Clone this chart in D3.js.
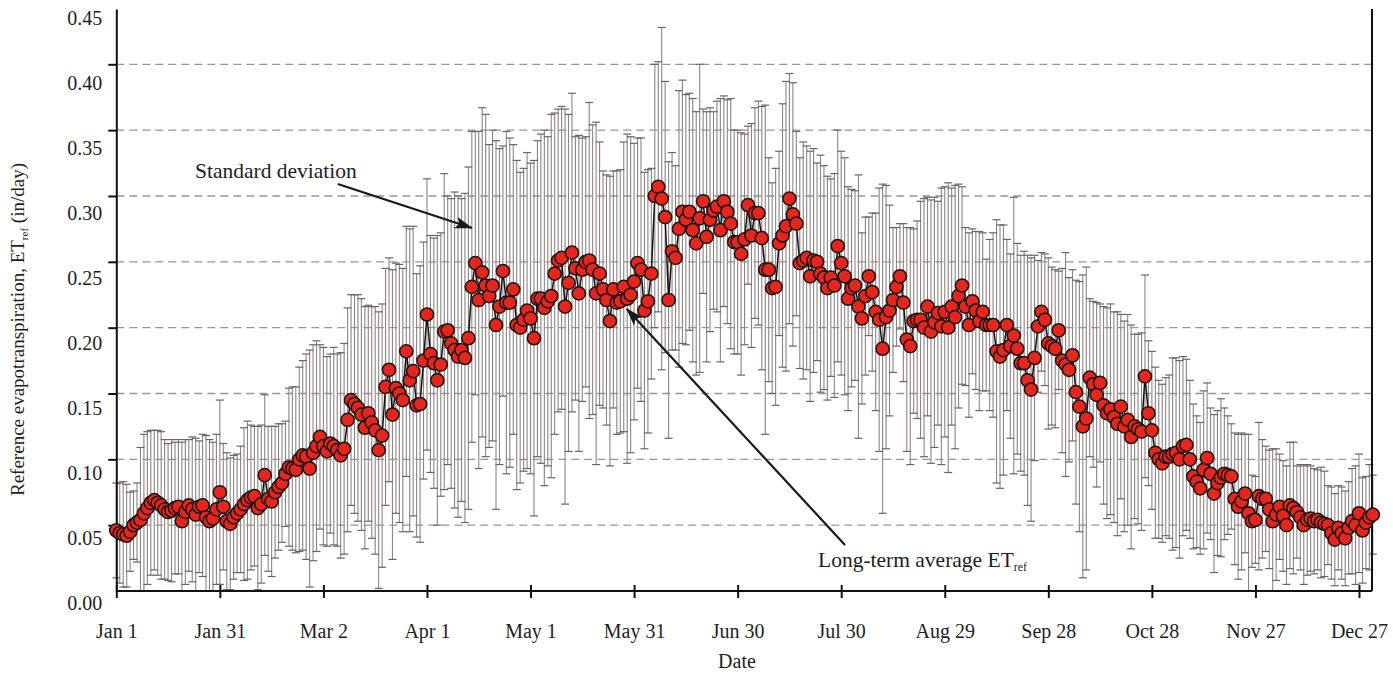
<!DOCTYPE html>
<html>
<head>
<meta charset="utf-8">
<script src="https://d3js.org/d3.v7.min.js"></script>
<style>
  body { margin: 0; background: #fff; }
  svg text { font-family: "Liberation Serif", "DejaVu Serif", serif; fill: #1e1e1e; }
</style>
</head>
<body>
<div id="chart"></div>
<script>
// day-of-year ticks and their labels
const tickDays = [1, 31, 61, 91, 121, 151, 181, 211, 241, 271, 301, 331, 361];
const tickLabels = ["Jan 1", "Jan 31", "Mar 2", "Apr 1", "May 1", "May 31", "Jun 30",
  "Jul 30", "Aug 29", "Sep 28", "Oct 28", "Nov 27", "Dec 27"];
const yLabels = [0, 0.05, 0.10, 0.15, 0.20, 0.25, 0.30, 0.35, 0.40, 0.45];
const gridValues = [0.05, 0.10, 0.15, 0.20, 0.25, 0.30, 0.35, 0.40];

// long-term average ET_ref (in/day), one value per day, one line per month
const meanEt = [
  0.046,0.044,0.043,0.042,0.045,0.050,0.052,0.054,0.059,0.063,0.067,0.069,0.067,0.065,0.062,0.060,0.061,0.063,0.064,0.053,0.060,0.065,0.062,0.058,0.064,0.065,0.056,0.053,0.055,0.062,0.075,
  0.064,0.053,0.051,0.056,0.059,0.062,0.066,0.069,0.071,0.072,0.063,0.066,0.088,0.070,0.068,0.075,0.079,0.082,0.089,0.094,0.093,0.092,0.100,0.103,0.102,0.093,0.105,0.110,
  0.117,0.110,0.106,0.112,0.110,0.107,0.103,0.108,0.130,0.145,0.142,0.139,0.134,0.124,0.135,0.128,0.122,0.107,0.118,0.155,0.168,0.134,0.154,0.150,0.145,0.182,0.160,0.167,0.141,0.142,0.175,
  0.210,0.180,0.173,0.160,0.172,0.197,0.198,0.188,0.183,0.178,0.183,0.177,0.192,0.231,0.249,0.221,0.242,0.232,0.224,0.232,0.202,0.216,0.243,0.219,0.219,0.229,0.202,0.200,0.206,0.213,
  0.207,0.192,0.222,0.222,0.215,0.220,0.224,0.241,0.251,0.253,0.216,0.234,0.257,0.245,0.226,0.244,0.250,0.251,0.244,0.226,0.241,0.229,0.221,0.205,0.229,0.219,0.220,0.231,0.222,0.225,0.235,
  0.249,0.244,0.213,0.220,0.241,0.300,0.307,0.298,0.284,0.221,0.258,0.253,0.275,0.288,0.282,0.288,0.274,0.264,0.283,0.296,0.269,0.282,0.289,0.292,0.274,0.296,0.288,0.279,0.265,0.265,
  0.256,0.267,0.293,0.270,0.287,0.287,0.268,0.244,0.244,0.230,0.231,0.264,0.270,0.277,0.298,0.286,0.279,0.249,0.251,0.253,0.239,0.251,0.250,0.241,0.238,0.230,0.238,0.232,0.262,0.249,0.239,
  0.222,0.230,0.232,0.216,0.207,0.224,0.239,0.227,0.212,0.206,0.184,0.208,0.213,0.221,0.231,0.239,0.219,0.191,0.186,0.205,0.206,0.206,0.200,0.216,0.197,0.204,0.211,0.201,0.212,0.200,0.216,
  0.208,0.224,0.232,0.216,0.202,0.220,0.213,0.205,0.212,0.202,0.202,0.202,0.182,0.178,0.183,0.202,0.186,0.194,0.184,0.173,0.173,0.160,0.153,0.177,0.201,0.212,0.206,0.188,0.186,0.184,
  0.198,0.175,0.172,0.168,0.179,0.151,0.140,0.125,0.131,0.162,0.157,0.149,0.158,0.141,0.135,0.138,0.132,0.127,0.140,0.125,0.130,0.117,0.125,0.123,0.121,0.163,0.135,0.122,0.105,0.100,0.097,
  0.102,0.102,0.104,0.105,0.100,0.110,0.111,0.100,0.087,0.083,0.078,0.092,0.101,0.089,0.074,0.082,0.086,0.089,0.088,0.087,0.070,0.064,0.068,0.074,0.059,0.053,0.054,0.072,0.070,0.070,
  0.062,0.053,0.058,0.064,0.057,0.050,0.065,0.063,0.060,0.056,0.050,0.054,0.055,0.053,0.054,0.052,0.051,0.050,0.044,0.039,0.048,0.044,0.040,0.048,0.053,0.050,0.059,0.046,0.052,0.056,0.058
];

// standard deviation for each day
const sdEt = [
  0.036,0.038,0.040,0.039,0.030,0.026,0.030,0.055,0.060,0.058,0.055,0.053,0.055,0.056,0.053,0.052,0.054,0.050,0.051,0.060,0.055,0.050,0.055,0.058,0.050,0.054,0.062,0.062,0.058,0.057,0.070,
  0.048,0.052,0.050,0.047,0.045,0.048,0.058,0.060,0.055,0.053,0.062,0.060,0.061,0.055,0.057,0.050,0.048,0.045,0.040,0.060,0.062,0.063,0.070,0.072,0.078,0.090,0.082,0.080,
  0.070,0.075,0.072,0.068,0.075,0.073,0.078,0.080,0.085,0.080,0.083,0.086,0.088,0.092,0.082,0.088,0.094,0.105,0.100,0.090,0.085,0.110,0.095,0.098,0.100,0.095,0.115,0.110,0.100,0.105,0.090,
  0.103,0.090,0.095,0.110,0.100,0.120,0.102,0.110,0.120,0.122,0.115,0.125,0.130,0.118,0.100,0.128,0.125,0.130,0.115,0.118,0.140,0.120,0.095,0.130,0.125,0.110,0.125,0.118,0.115,0.120,
  0.118,0.135,0.120,0.125,0.135,0.125,0.138,0.122,0.115,0.115,0.150,0.128,0.121,0.100,0.120,0.100,0.095,0.120,0.110,0.130,0.100,0.090,0.095,0.110,0.090,0.100,0.100,0.110,0.125,0.120,0.105,
  0.095,0.100,0.105,0.100,0.080,0.100,0.095,0.130,0.103,0.105,0.075,0.070,0.105,0.100,0.095,0.090,0.100,0.100,0.117,0.070,0.095,0.085,0.075,0.080,0.100,0.080,0.085,0.095,0.085,0.085,
  0.092,0.080,0.060,0.085,0.080,0.085,0.100,0.125,0.085,0.080,0.090,0.070,0.100,0.110,0.095,0.100,0.070,0.080,0.090,0.085,0.095,0.085,0.075,0.090,0.085,0.085,0.075,0.085,0.088,0.085,0.090,
  0.085,0.075,0.072,0.100,0.065,0.060,0.045,0.060,0.075,0.100,0.125,0.100,0.080,0.055,0.045,0.040,0.060,0.085,0.090,0.070,0.075,0.090,0.098,0.083,0.100,0.095,0.085,0.105,0.095,0.110,0.090,
  0.100,0.085,0.075,0.060,0.070,0.055,0.060,0.068,0.060,0.050,0.065,0.070,0.100,0.100,0.095,0.065,0.070,0.105,0.080,0.082,0.085,0.095,0.100,0.078,0.050,0.045,0.050,0.065,0.060,0.060,
  0.045,0.070,0.085,0.070,0.065,0.085,0.095,0.115,0.115,0.060,0.063,0.070,0.060,0.075,0.080,0.080,0.080,0.085,0.070,0.080,0.080,0.085,0.070,0.072,0.075,0.077,0.055,0.060,0.065,0.060,0.060,
  0.060,0.062,0.073,0.072,0.075,0.068,0.065,0.060,0.055,0.050,0.050,0.060,0.057,0.050,0.060,0.055,0.060,0.050,0.045,0.040,0.050,0.055,0.052,0.045,0.060,0.035,0.033,0.056,0.045,0.040,
  0.045,0.055,0.050,0.040,0.042,0.045,0.048,0.050,0.035,0.040,0.045,0.042,0.040,0.040,0.038,0.042,0.040,0.030,0.035,0.035,0.032,0.035,0.036,0.035,0.040,0.045,0.045,0.040,0.035,0.040,0.030
];

function drawChart() {
  const width = 1393;
  const height = 674;
  const left = 116.3, right = 1372.8, top = 9, bottom = 591;
  const borderX = 1372;

  const days = d3.range(1, meanEt.length + 1);
  const data = days.map((d, i) => ({day: d, mean: meanEt[i], sd: sdEt[i]}));

  const svg = d3.select("#chart")
    .append("svg")
    .attr("width", width)
    .attr("height", height);

  const x = d3.scaleLinear().domain([1, 365]).range([left, right]);
  const y = d3.scaleLinear().domain([0, 0.442]).range([bottom, top]);
  // in the original the tick labels sit a bit lower than the tick marks
  const yLab = d3.scaleLinear().domain([0, 0.45]).range([603, 18]);

  svg.append("defs").append("marker")
    .attr("id", "arrow")
    .attr("markerUnits", "userSpaceOnUse")
    .attr("markerWidth", 18).attr("markerHeight", 12)
    .attr("refX", 17).attr("refY", 6)
    .attr("orient", "auto")
    .append("path")
    .attr("d", "M0,0 L18,6 L0,12 L4,6 Z")
    .attr("fill", "#1a1a1a");

  // dashed grid
  svg.append("g")
    .selectAll("line")
    .data(gridValues).enter()
    .append("line")
    .attr("x1", left).attr("x2", borderX)
    .attr("y1", d => y(d)).attr("y2", d => y(d))
    .attr("stroke", "#9c9595")
    .attr("stroke-width", 1.3)
    .attr("stroke-dasharray", "8,5");

  // error bars
  const bars = svg.append("g");
  bars.selectAll(".bar")
    .data(data).enter()
    .append("line")
    .attr("x1", d => x(d.day)).attr("x2", d => x(d.day))
    .attr("y1", d => y(Math.max(0, d.mean - d.sd)))
    .attr("y2", d => y(d.mean + d.sd))
    .attr("stroke", "#8e8484")
    .attr("stroke-width", 1.1);
  ["low", "high"].forEach(function (end) {
    bars.selectAll(".cap-" + end)
      .data(data).enter()
      .append("line")
      .attr("x1", d => x(d.day) - 4).attr("x2", d => x(d.day) + 4)
      .attr("y1", d => y(end == "low" ? Math.max(0, d.mean - d.sd) : d.mean + d.sd))
      .attr("y2", d => y(end == "low" ? Math.max(0, d.mean - d.sd) : d.mean + d.sd))
      .attr("stroke", "#6e6363")
      .attr("stroke-width", 1.2);
  });

  // Y axis: tick marks, then labels
  svg.append("g")
    .attr("transform", "translate(" + left + ",0)")
    .call(d3.axisLeft(y).tickValues(gridValues).tickSize(8).tickSizeOuter(0).tickFormat(""))
    .call(g => g.selectAll("path, line").attr("stroke", "#111").attr("stroke-width", 2));

  svg.append("g")
    .attr("transform", "translate(" + left + ",0)")
    .call(d3.axisLeft(yLab).tickValues(yLabels).tickSize(0).tickPadding(14).tickFormat(d3.format(".2f")))
    .call(g => g.select(".domain").remove())
    .call(g => g.selectAll("text")
      .attr("font-family", "Liberation Serif, DejaVu Serif, serif")
      .attr("font-size", 20)
      .attr("fill", "#1e1e1e"));

  // X axis
  svg.append("g")
    .attr("transform", "translate(0," + bottom + ")")
    .call(d3.axisBottom(x).tickValues(tickDays).tickSize(7).tickSizeOuter(0)
      .tickFormat((d, i) => tickLabels[i]))
    .call(g => g.select(".domain").attr("d", "M" + left + ",0H" + borderX))
    .call(g => g.selectAll("path, line").attr("stroke", "#111").attr("stroke-width", 2))
    .call(g => g.selectAll(".tick line").attr("y1", -6))
    .call(g => g.selectAll("text")
      .attr("y", 33)
      .attr("font-family", "Liberation Serif, DejaVu Serif, serif")
      .attr("font-size", 20)
      .attr("fill", "#1e1e1e"));

  // right border
  svg.append("line")
    .attr("x1", borderX).attr("x2", borderX)
    .attr("y1", top).attr("y2", bottom)
    .attr("stroke", "#111").attr("stroke-width", 2);

  // mean line and dots
  const line = d3.line().x(d => x(d.day)).y(d => y(d.mean));
  svg.append("path")
    .datum(data)
    .attr("d", line)
    .attr("fill", "none")
    .attr("stroke", "#111")
    .attr("stroke-width", 1.5);

  svg.append("g")
    .selectAll("circle")
    .data(data).enter()
    .append("circle")
    .attr("cx", d => x(d.day))
    .attr("cy", d => y(d.mean))
    .attr("r", 6.6)
    .attr("fill", "#e4261d")
    .attr("stroke", "#1b1212")
    .attr("stroke-width", 1.5);

  // annotations
  const sdTip = [x(104), y(0.2757)];
  svg.append("line")
    .attr("x1", sdTip[0] - 134).attr("y1", sdTip[1] - 44)
    .attr("x2", sdTip[0]).attr("y2", sdTip[1])
    .attr("stroke", "#1a1a1a").attr("stroke-width", 2.2)
    .attr("marker-end", "url(#arrow)");
  svg.append("text")
    .attr("x", 195).attr("y", 178)
    .attr("font-size", 21.5)
    .text("Standard deviation");

  const avgTip = [x(148.9), y(0.2142)];
  svg.append("line")
    .attr("x1", 845).attr("y1", 545)
    .attr("x2", avgTip[0]).attr("y2", avgTip[1])
    .attr("stroke", "#1a1a1a").attr("stroke-width", 2.2)
    .attr("marker-end", "url(#arrow)");
  const avgText = svg.append("text")
    .attr("x", 818).attr("y", 567)
    .attr("font-size", 21.5);
  avgText.append("tspan").text("Long-term average ET");
  avgText.append("tspan").attr("font-size", 12).attr("dy", 4).text("ref");

  // axis titles
  svg.append("text")
    .attr("x", 737).attr("y", 668)
    .attr("text-anchor", "middle")
    .attr("font-size", 20)
    .text("Date");

  const yTitle = svg.append("text")
    .attr("transform", "translate(24,496) rotate(-90)")
    .attr("font-size", 19);
  yTitle.append("tspan").text("Reference evapotranspiration, ET");
  yTitle.append("tspan").attr("font-size", 11).attr("dy", 4).text("ref");
  yTitle.append("tspan").attr("dy", -4).text(" (in/day)");
}

drawChart();
</script>
</body>
</html>
